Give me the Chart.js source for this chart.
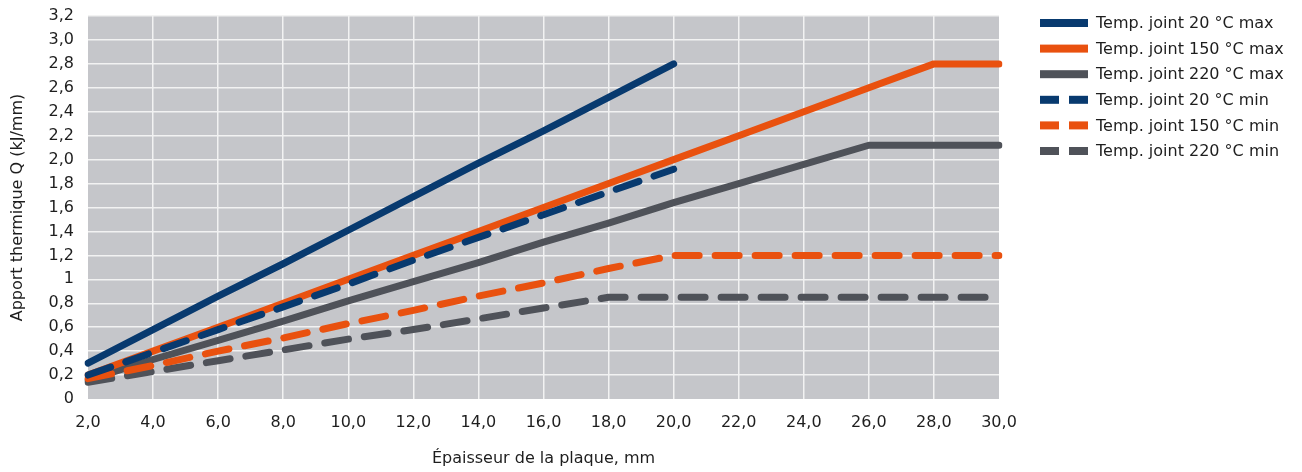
<!DOCTYPE html>
<html>
<head>
<meta charset="utf-8">
<script src="https://cdn.jsdelivr.net/npm/chart.js@4.4.1/dist/chart.umd.min.js"></script>
<style>
  html, body { margin: 0; padding: 0; background: #fff; }
  #wrap { width: 1302px; height: 472px; }
</style>
</head>
<body>
<div id="wrap"><canvas id="chart"></canvas></div>
<script>
(function () {
    "use strict";

    // épaisseur de la plaque (mm)
    const xLabels = ['2,0', '4,0', '6,0', '8,0', '10,0', '12,0', '14,0', '16,0',
        '18,0', '20,0', '22,0', '24,0', '26,0', '28,0', '30,0'];
    const yTickLabels = ['0', '0,2', '0,4', '0,6', '0,8', '1', '1,2', '1,4', '1,6',
        '1,8', '2,0', '2,2', '2,4', '2,6', '2,8', '3,0', '3,2'];

    // apport thermique Q (kJ/mm)
    const max20 = [0.30, 0.58, 0.86, 1.13, 1.41, 1.69, 1.97, 2.24, 2.52, 2.80, null, null, null, null, null];
    const max150 = [0.20, 0.40, 0.60, 0.80, 1.00, 1.20, 1.40, 1.60, 1.80, 2.00, 2.20, 2.40, 2.60, 2.80, 2.80];
    const max220 = [0.16, 0.33, 0.49, 0.65, 0.82, 0.98, 1.14, 1.31, 1.47, 1.64, 1.80, 1.96, 2.12, 2.12, 2.12];
    const min20 = [0.20, 0.39, 0.58, 0.77, 0.96, 1.16, 1.35, 1.54, 1.73, 1.92, null, null, null, null, null];
    const min150 = [0.17, 0.28, 0.40, 0.51, 0.63, 0.74, 0.86, 0.97, 1.09, 1.20, 1.20, 1.20, 1.20, 1.20, 1.20];
    const min220 = [0.14, 0.23, 0.32, 0.41, 0.50, 0.58, 0.67, 0.76, 0.85, 0.85, 0.85, 0.85, 0.85, 0.85, 0.85];

    const navy = '#083a6f';
    const orange = '#e9510f';
    const grey = '#4f5259';
    const dash = [24, 16];

    const font = "'DejaVu Sans', sans-serif";

    function line(label, data, color, dashed, order) {
        return {
            label: label,
            data: data,
            borderColor: color,
            backgroundColor: color,
            borderWidth: 7,
            borderDash: dashed ? dash : [],
            borderCapStyle: 'round',
            borderJoinStyle: 'round',
            pointRadius: 0,
            tension: 0,
            fill: false,
            order: order
        };
    }

    const plotBg = {
        id: 'plotBg',
        beforeDraw: function (chart) {
            const a = chart.chartArea, ctx = chart.ctx;
            ctx.save();
            ctx.fillStyle = '#c5c6ca';
            ctx.fillRect(a.left, a.top, a.right - a.left, a.bottom - a.top);
            ctx.restore();
        }
    };

    // légende dessinée à la main, à droite du graphique
    const sideLegend = {
        id: 'sideLegend',
        afterDraw: function (chart) {
            const ctx = chart.ctx;
            const x0 = 1040, y0 = 23, step = 25.6, w = 48, h = 8;
            ctx.save();
            ctx.font = "16px " + font;
            ctx.textBaseline = 'middle';
            chart.data.datasets.forEach(function (ds, i) {
                const y = y0 + i * step;
                ctx.fillStyle = ds.borderColor;
                if (ds.borderDash.length) {
                    ctx.fillRect(x0, y - h / 2, 19, h);
                    ctx.fillRect(x0 + 29, y - h / 2, 19, h);
                } else {
                    ctx.fillRect(x0, y - h / 2, w, h);
                }
                ctx.fillStyle = '#1e1e1e';
                ctx.fillText(ds.label, x0 + 56, y + 1);
            });
            ctx.restore();
        }
    };

    const edgeless = function (c) {
        return (c.index === 0) ? 'rgba(0,0,0,0)' : '#f2f2f2';
    };

    new Chart(document.getElementById('chart').getContext('2d'), {
        type: 'line',
        data: {
            labels: xLabels,
            datasets: [
                line('Temp. joint 20 °C max', max20, navy, false, 0),
                line('Temp. joint 150 °C max', max150, orange, false, 2),
                line('Temp. joint 220 °C max', max220, grey, false, 4),
                line('Temp. joint 20 °C min', min20, navy, true, 1),
                line('Temp. joint 150 °C min', min150, orange, true, 3),
                line('Temp. joint 220 °C min', min220, grey, true, 5)
            ]
        },
        plugins: [plotBg, sideLegend],
        options: {
            responsive: true,
            maintainAspectRatio: false,
            animation: false,
            layout: { padding: { left: 0, top: 16, right: 303, bottom: 0 } },
            plugins: {
                legend: { display: false },
                tooltip: { enabled: false }
            },
            scales: {
                x: {
                    grid: {
                        color: function (c) {
                            return (c.index === 0 || c.index === xLabels.length - 1) ? 'rgba(0,0,0,0)' : '#f2f2f2';
                        },
                        lineWidth: 1.5,
                        drawTicks: false
                    },
                    border: { display: false },
                    ticks: {
                        color: '#1e1e1e',
                        font: { family: font, size: 16 },
                        padding: 14,
                        maxRotation: 0,
                        autoSkip: false
                    },
                    title: {
                        display: true,
                        text: 'Épaisseur de la plaque, mm',
                        color: '#1e1e1e',
                        font: { family: font, size: 16 },
                        padding: { top: 10, bottom: 4 }
                    },
                    afterFit: function (scale) { scale.height = 73; }
                },
                y: {
                    min: 0,
                    max: 3.2,
                    grid: {
                        color: edgeless,
                        lineWidth: 1.5,
                        drawTicks: false
                    },
                    border: { display: false },
                    ticks: {
                        stepSize: 0.2,
                        color: '#1e1e1e',
                        font: { family: font, size: 16 },
                        padding: 14,
                        callback: function (value, index) { return yTickLabels[index]; }
                    },
                    title: {
                        display: true,
                        text: 'Apport thermique Q (kJ/mm)',
                        color: '#1e1e1e',
                        font: { family: font, size: 16 },
                        padding: { top: 8, bottom: 4 }
                    },
                    afterFit: function (scale) {
                        scale.width = 88;
                        scale.paddingTop = 0;
                        scale.paddingBottom = 0;
                    }
                }
            }
        }
    });
})();
</script>
</body>
</html>
